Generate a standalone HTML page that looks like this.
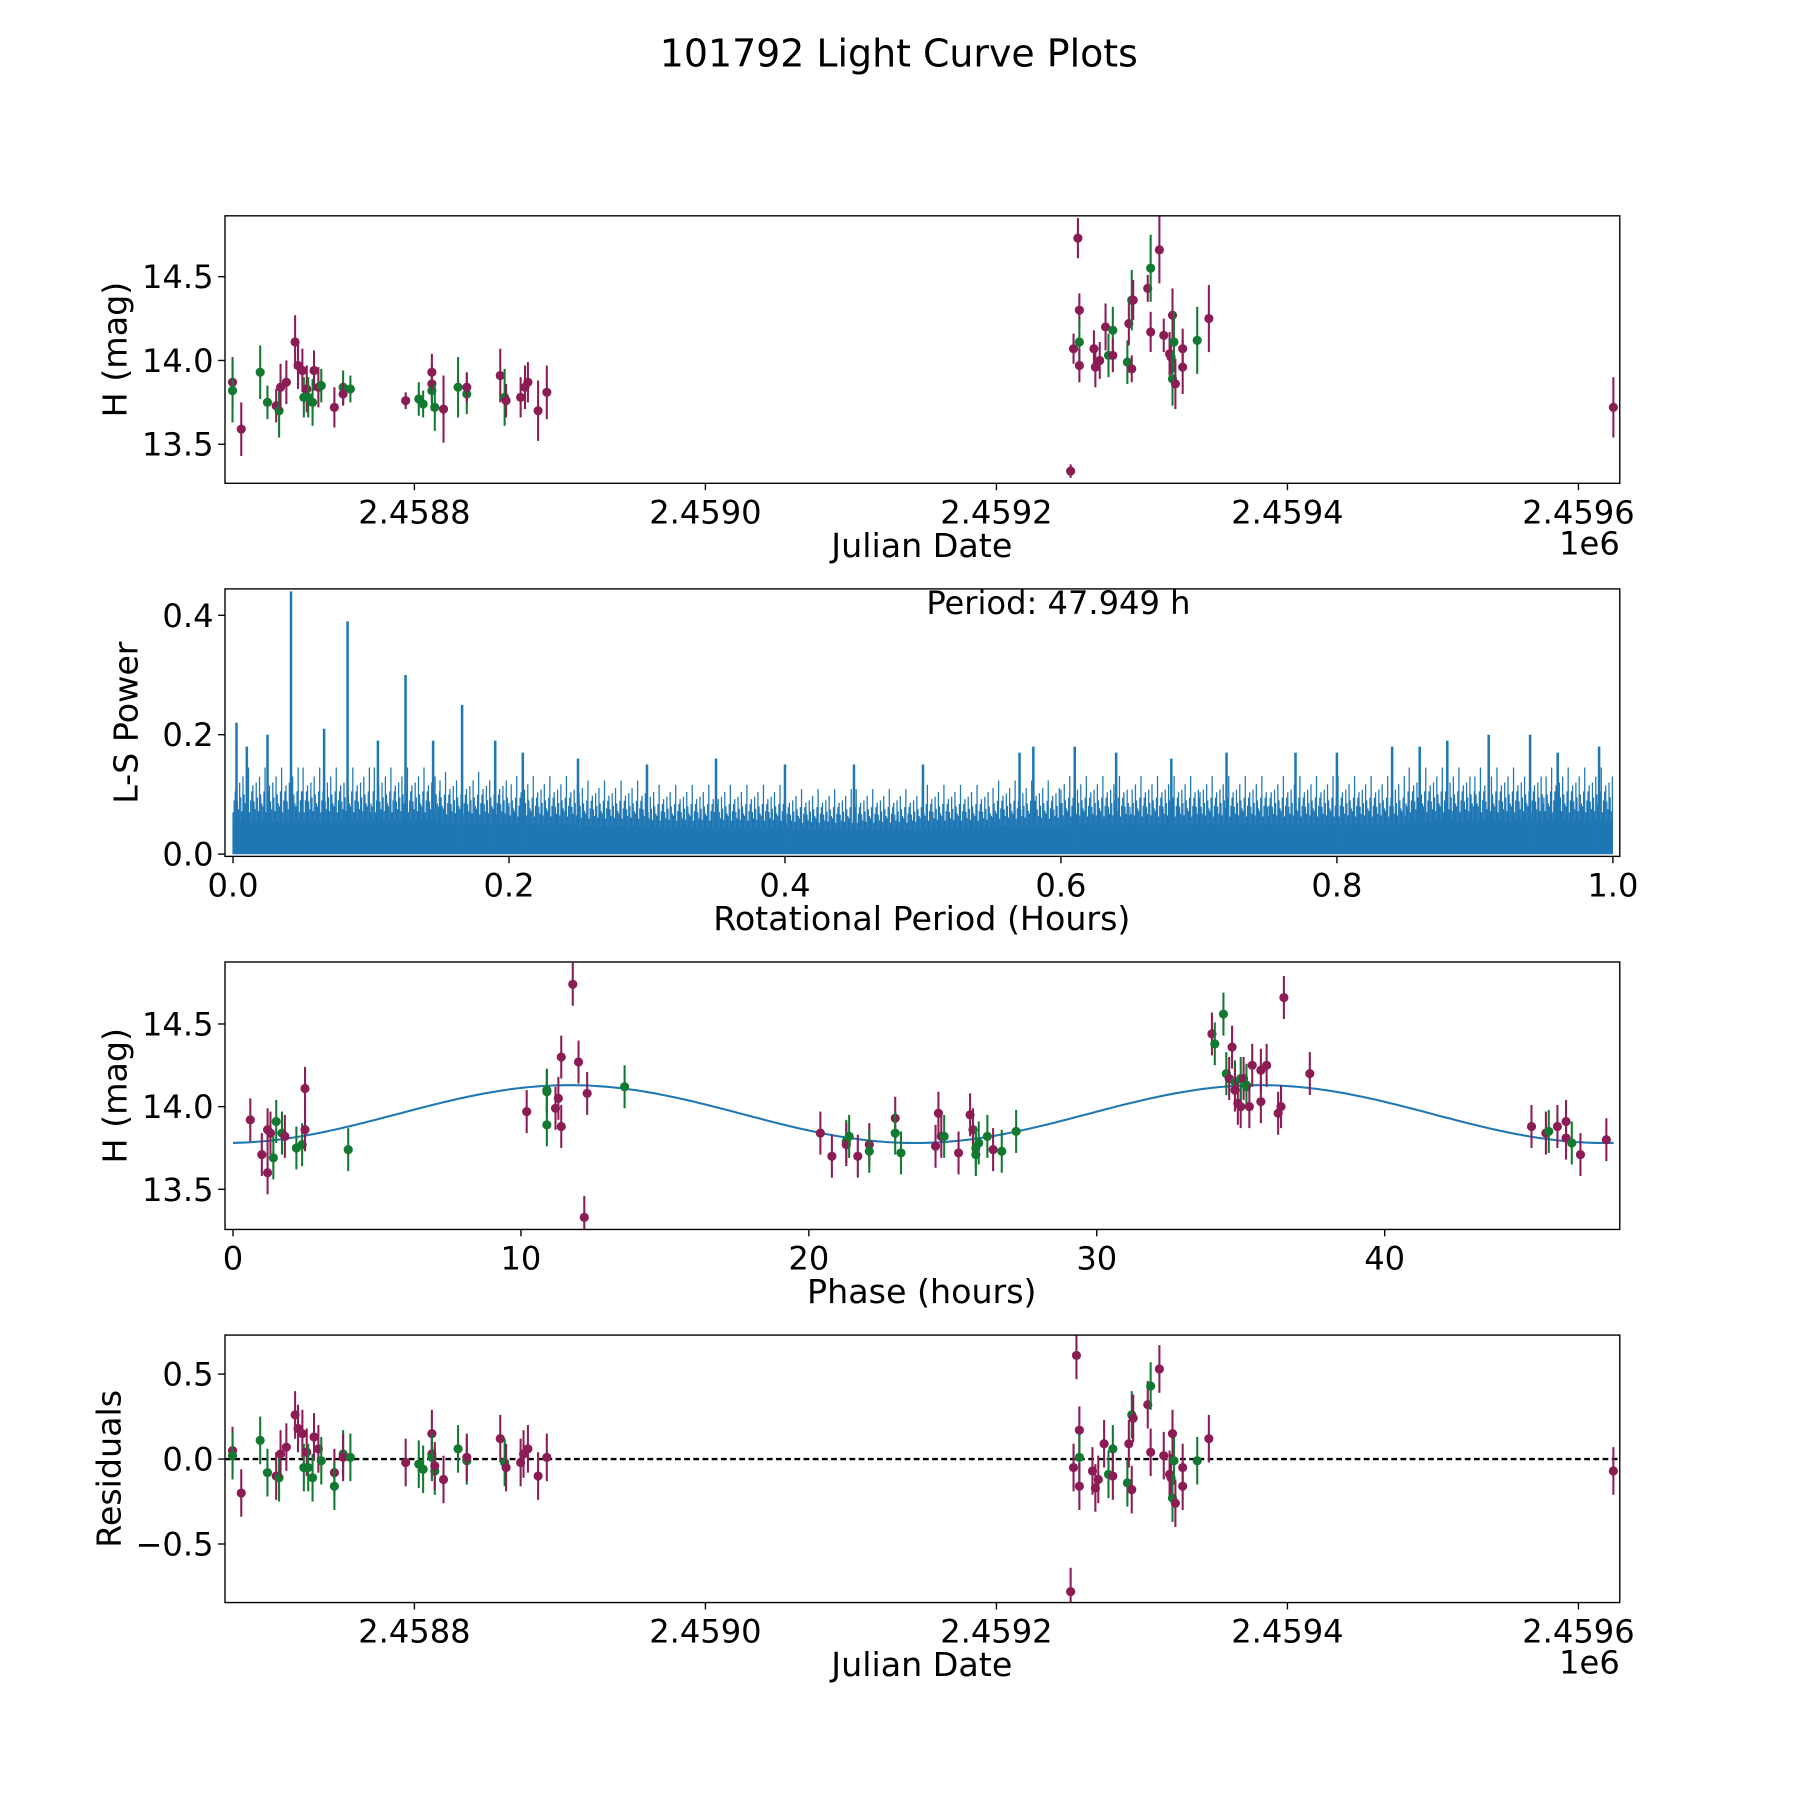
<!DOCTYPE html>
<html><head><meta charset="utf-8"><style>
html,body{margin:0;padding:0;background:#fff}
svg{display:block}
text{font-family:"DejaVu Sans","Liberation Sans",sans-serif;fill:#000}
</style></head><body>
<svg id="fig" width="1800" height="1800" viewBox="0 0 1568 1568" xmlns="http://www.w3.org/2000/svg">
<text x="783" y="58" font-size="33" text-anchor="middle">101792 Light Curve Plots</text>
</svg>
<script>
// ---- Panel 1: light curve (JD - 2458000) ----
const lcJD=[675,675,681,694,699,705,707,708,712,718,720,723,724,726,727,730,731,734,736,745,751,751,756,794,803,806,812,812,812,814,820,830,836,836,859,862,863,873,876,878,885,891,1251,1253,1256,1257,1257,1257,1267,1268,1271,1275,1277,1280,1280,1290,1291,1293,1294,1293,1304,1306,1306,1312,1315,1319,1320,1321,1321,1322,1323,1328,1328,1338,1346,1624];
const lcMag=[13.87,13.82,13.59,13.93,13.75,13.73,13.70,13.84,13.87,14.11,13.97,13.94,13.78,13.83,13.78,13.75,13.94,13.84,13.85,13.72,13.84,13.80,13.83,13.76,13.77,13.74,13.86,13.82,13.93,13.72,13.71,13.84,13.80,13.84,13.91,13.78,13.76,13.78,13.84,13.87,13.70,13.81,13.34,14.07,14.73,14.30,14.11,13.97,14.07,13.96,14.00,14.20,14.03,14.18,14.03,13.99,14.22,14.36,14.36,13.95,14.43,14.55,14.17,14.66,14.15,14.04,14.02,14.27,13.89,14.11,13.86,14.07,13.96,14.12,14.25,13.72];
const lcErr=[0.15,0.19,0.16,0.16,0.1,0.1,0.16,0.14,0.13,0.16,0.14,0.13,0.12,0.14,0.12,0.14,0.12,0.12,0.1,0.12,0.1,0.07,0.08,0.05,0.1,0.08,0.11,0.12,0.11,0.14,0.2,0.18,0.12,0.09,0.16,0.17,0.1,0.12,0.13,0.12,0.18,0.16,0.04,0.09,0.12,0.1,0.14,0.1,0.11,0.12,0.11,0.14,0.13,0.14,0.1,0.13,0.13,0.18,0.12,0.08,0.08,0.2,0.12,0.2,0.1,0.13,0.1,0.16,0.16,0.18,0.15,0.12,0.16,0.2,0.2,0.18];
const lcBand=["m","g","m","g","g","m","g","m","m","m","m","m","g","m","g","g","m","m","g","m","g","m","g","m","g","g","m","g","m","g","m","g","g","m","m","g","m","m","m","m","m","m","m","m","m","m","g","m","m","m","m","m","g","g","m","g","m","g","m","m","m","g","m","m","m","m","m","m","g","g","m","m","m","g","m","m"];
// ---- Panel 2: periodogram ----
const lsBinStart=[0,0.05,0.1,0.15,0.2,0.25,0.3,0.35,0.4,0.45,0.5,0.55,0.6,0.65,0.7,0.75,0.8,0.85,0.9,0.95];
const lsBase=[0.10,0.10,0.10,0.095,0.09,0.085,0.08,0.08,0.075,0.075,0.08,0.085,0.09,0.09,0.09,0.09,0.09,0.10,0.10,0.10];
const lsPeakFreq=[0.0025,0.01,0.025,0.042,0.066,0.083,0.105,0.125,0.145,0.166,0.19,0.21,0.25,0.3,0.35,0.4,0.45,0.5,0.57,0.58,0.61,0.64,0.68,0.72,0.77,0.8,0.84,0.86,0.88,0.91,0.94,0.96,0.99];
const lsPeakPow=[0.22,0.18,0.20,0.44,0.21,0.39,0.19,0.30,0.19,0.25,0.19,0.17,0.16,0.15,0.16,0.15,0.15,0.15,0.17,0.18,0.18,0.17,0.16,0.17,0.17,0.17,0.18,0.18,0.19,0.20,0.20,0.17,0.18];
// ---- Panel 3: phased ----
const phHours=[0.6,1.0,1.2,1.2,1.3,1.4,1.5,1.7,1.8,2.2,2.4,2.5,2.5,4.0,10.2,10.9,10.9,10.9,11.2,11.3,11.4,11.4,11.8,12.0,12.2,12.3,13.6,20.4,20.8,21.3,21.3,21.4,21.7,22.1,22.1,23.0,23.0,23.2,24.4,24.5,24.6,24.7,25.2,25.6,25.7,25.8,25.8,25.9,26.2,26.4,26.7,27.2,34.0,34.1,34.4,34.5,34.6,34.7,34.8,34.8,34.9,35.0,35.0,35.1,35.2,35.2,35.3,35.4,35.7,35.7,35.9,36.3,36.4,36.5,37.4,45.1,45.6,45.7,46.0,46.3,46.3,46.5,46.8,47.7];
const phMag=[13.92,13.71,13.60,13.86,13.84,13.69,13.91,13.84,13.82,13.75,13.77,13.86,14.11,13.74,13.97,14.10,14.09,13.89,13.99,14.05,14.30,13.88,14.74,14.27,13.33,14.08,14.12,13.84,13.70,13.79,13.77,13.82,13.70,13.77,13.73,13.93,13.84,13.72,13.76,13.96,13.82,13.82,13.72,13.95,13.86,13.75,13.71,13.78,13.82,13.74,13.73,13.85,14.44,14.38,14.56,14.20,14.17,14.36,14.15,14.10,14.02,14.00,14.17,14.17,14.12,14.13,14.00,14.25,14.22,14.03,14.25,13.96,14.00,14.66,14.20,13.88,13.84,13.85,13.88,13.81,13.91,13.78,13.71,13.80];
const phBand=["m","m","m","m","m","g","g","g","m","g","g","m","m","g","m","g","g","g","m","m","m","m","m","m","m","m","g","m","m","g","m","g","m","m","g","m","g","g","m","m","m","g","m","m","m","g","g","g","g","m","g","g","m","g","g","g","m","m","g","m","m","m","g","m","g","g","m","m","m","m","m","m","m","m","m","m","m","g","m","m","m","g","m","m"];
const phErr=0.13;
const fitMean=13.955, fitAmp=0.175, fitPeriod=23.9745, fitPhase0=11.7;
// ---- Panel 4: residuals ----
const resJD=[675,675,681,694,699,705,707,708,712,718,720,723,724,726,727,730,731,734,736,745,745,751,751,756,794,803,806,812,812,812,814,814,820,830,836,836,859,862,863,873,875,878,885,891,1251,1253,1255,1257,1257,1257,1266,1268,1270,1274,1277,1280,1280,1290,1291,1293,1294,1293,1304,1306,1306,1312,1315,1319,1320,1321,1321,1322,1323,1328,1328,1338,1346,1624];
const resVal=[0.05,0.02,-0.2,0.11,-0.08,-0.1,-0.11,0.03,0.07,0.26,0.18,0.15,-0.05,0.04,-0.05,-0.11,0.13,0.06,-0.01,-0.08,-0.16,0.03,0.01,0.01,-0.02,-0.03,-0.06,0.03,0.15,0.01,-0.07,-0.04,-0.12,0.06,-0.01,0.01,0.12,-0.02,-0.05,-0.02,0.03,0.06,-0.1,0.01,-0.78,-0.05,0.61,0.17,0.01,-0.16,-0.07,-0.17,-0.12,0.09,-0.09,0.06,-0.1,-0.14,0.09,0.26,0.24,-0.18,0.32,0.43,0.04,0.53,0.02,-0.09,-0.11,0.15,-0.23,-0.01,-0.26,-0.05,-0.16,-0.01,0.12,-0.07];
const resBand=["m","g","m","g","g","m","g","m","m","m","m","m","g","m","g","g","m","m","g","m","g","g","m","g","m","g","g","m","m","g","g","m","m","g","g","m","m","g","m","m","m","m","m","m","m","m","m","m","g","m","m","m","m","m","g","g","m","g","m","g","m","m","m","g","m","m","m","m","m","m","g","g","m","m","m","g","m","m"];
const resErr=0.14;

const svg=document.getElementById('fig');
const NS='http://www.w3.org/2000/svg';
const COL={m:'#8b1c55',g:'#127a30'};
function mk(tag,attrs,parent){const e=document.createElementNS(NS,tag);for(const k in attrs)e.setAttribute(k,attrs[k]);(parent||svg).appendChild(e);return e;}
const L=196,R=1411;
function lin(d0,d1,p0,p1){return v=>p0+(v-d0)*(p1-p0)/(d1-d0);}
function axes(top,bot,g,xs,ys,xt,xtl,yt,ytl,xlabel,ylabel,xlabY,ylabX){
  for(let i=0;i<xt.length;i++){const x=xs(xt[i]);
    const t=mk('line',{x1:x,x2:x,y1:bot,y2:bot+6,stroke:'#000','stroke-width':1.2},g);
    
    const tx=mk('text',{x:x,y:bot+35,'font-size':28,'text-anchor':'middle'},g);tx.textContent=xtl[i];
    }
  for(let i=0;i<yt.length;i++){const y=ys(yt[i]);
    const t=mk('line',{x1:L-6,x2:L,y1:y,y2:y,stroke:'#000','stroke-width':1.2},g);
    
    const tx=mk('text',{x:L-10,y:y+10,'font-size':28,'text-anchor':'end'},g);tx.textContent=ytl[i];
    }
  const xl=mk('text',{x:803,y:xlabY,'font-size':29,'text-anchor':'middle'},g);xl.textContent=xlabel;
  
  const yc=(top+bot)/2;
  const yl=mk('text',{x:ylabX,y:yc,'font-size':29,'text-anchor':'middle',transform:`rotate(-90 ${ylabX} ${yc})`},g);yl.textContent=ylabel;
  
}
function frame(top,bot,g){const f=mk('rect',{x:L,y:top,width:R-L,height:bot-top,fill:'none',stroke:'#000','stroke-width':1.2},g);
  }
function errpt(g,x,y,y1,y2,c,top,bot){
  const cl=v=>Math.max(top,Math.min(bot,v));
  const l=mk('line',{x1:x,x2:x,y1:cl(y1),y2:cl(y2),stroke:COL[c],'stroke-width':1.8},g);
  
  const p=mk('circle',{cx:x,cy:y,r:4,fill:COL[c]},g);
  
}
const jdTicks=[800,1000,1200,1400,1600],jdLab=['2.4588','2.4590','2.4592','2.4594','2.4596'];
// Panel 1
{const top=188,bot=421;const g=mk('g',{});
 const xs=lin(800,1000,361,614.5),ys=lin(14.0,14.5,314,241);
 for(let i=0;i<lcJD.length;i++)errpt(g,xs(lcJD[i]),ys(lcMag[i]),ys(lcMag[i]+lcErr[i]),ys(lcMag[i]-lcErr[i]),lcBand[i],top,bot);
 frame(top,bot,g);
 axes(top,bot,g,xs,ys,jdTicks,jdLab,[13.5,14.0,14.5],['13.5','14.0','14.5'],'Julian Date','H (mag)',485,110);
 const e=mk('text',{x:1411,y:483,'font-size':28,'text-anchor':'end'},g);e.textContent='1e6';
 }
// Panel 2
{const top=513,bot=746;const g=mk('g',{});
 const xs=lin(0,1,203,1405),ys=lin(0,0.4,744,536);
 const cp=mk('clipPath',{id:'cp2'},svg);mk('rect',{x:L,y:top,width:R-L,height:bot-top},cp);
 const gg=mk('g',{'clip-path':'url(#cp2)'},g);
 let d='M'+xs(0)+' '+ys(0);
 for(let i=0;i<lsBinStart.length;i++){const x0=xs(lsBinStart[i]),x1=xs(lsBinStart[i]+0.05);d+=` L${x0} ${ys(lsBase[i]*0.55)} L${x1} ${ys(lsBase[i]*0.55)}`;}
 d+=` L${xs(1)} ${ys(0)} Z`;
 const band=mk('path',{d:d,fill:'#1f77b4'},gg);
 const hf=[0.7,1.05,0.85,1.3,0.95,0.75,1.15,0.9,1.45,0.8,1.0,0.72,1.2,0.88,1.05];
 for(let i=0;i<lsBinStart.length;i++){for(let k=0;k<63;k++){const f=lsBinStart[i]+k*0.0008;const h=lsBase[i]*hf[(k*7+i)%hf.length];
   const s=mk('line',{x1:xs(f),x2:xs(f),y1:ys(0),y2:ys(h),stroke:'#1f77b4','stroke-width':1.1},gg);
   }}
 for(let i=0;i<lsPeakFreq.length;i++){const s=mk('line',{x1:xs(lsPeakFreq[i]),x2:xs(lsPeakFreq[i]),y1:ys(0),y2:ys(lsPeakPow[i]),stroke:'#1f77b4','stroke-width':2.2},gg);
   }
 frame(top,bot,g);
 axes(top,bot,g,xs,ys,[0,0.2,0.4,0.6,0.8,1.0],['0.0','0.2','0.4','0.6','0.8','1.0'],[0,0.2,0.4],['0.0','0.2','0.4'],'Rotational Period (Hours)','L-S Power',810,120);
 const p=mk('text',{x:922,y:535,'font-size':28,'text-anchor':'middle'},g);p.textContent='Period: 47.949 h';
 }
// Panel 3
{const top=838,bot=1071;const g=mk('g',{});
 const xs=lin(0,10,203,453.8),ys=lin(14.0,14.5,964,892);
 let d='';for(let k=0;k<=400;k++){const x=k*47.949/400;const y=fitMean+fitAmp*Math.cos(2*Math.PI*(x-fitPhase0)/fitPeriod);d+=(k?' L':'M')+xs(x).toFixed(1)+' '+ys(y).toFixed(1);}
 const fit=mk('path',{d:d,fill:'none',stroke:'#1f77b4','stroke-width':1.8},g);
 for(let i=0;i<phHours.length;i++)errpt(g,xs(phHours[i]),ys(phMag[i]),ys(phMag[i]+phErr),ys(phMag[i]-phErr),phBand[i],top,bot);
 frame(top,bot,g);
 axes(top,bot,g,xs,ys,[0,10,20,30,40],['0','10','20','30','40'],[13.5,14.0,14.5],['13.5','14.0','14.5'],'Phase (hours)','H (mag)',1135,110);}
// Panel 4
{const top=1163,bot=1396;const g=mk('g',{});
 const xs=lin(800,1000,361,614.5),ys=lin(0,0.5,1271,1197);
 const z=mk('line',{x1:L,x2:R,y1:ys(0),y2:ys(0),stroke:'#000','stroke-width':2,'stroke-dasharray':'5,3'},g);
 
 for(let i=0;i<resJD.length;i++)errpt(g,xs(resJD[i]),ys(resVal[i]),ys(resVal[i]+resErr),ys(resVal[i]-resErr),resBand[i],top,bot);
 frame(top,bot,g);
 axes(top,bot,g,xs,ys,jdTicks,jdLab,[-0.5,0,0.5],['\u22120.5','0.0','0.5'],'Julian Date','Residuals',1460,105);
 const e=mk('text',{x:1411,y:1458,'font-size':28,'text-anchor':'end'},g);e.textContent='1e6';
 }
</script>
</body></html>
